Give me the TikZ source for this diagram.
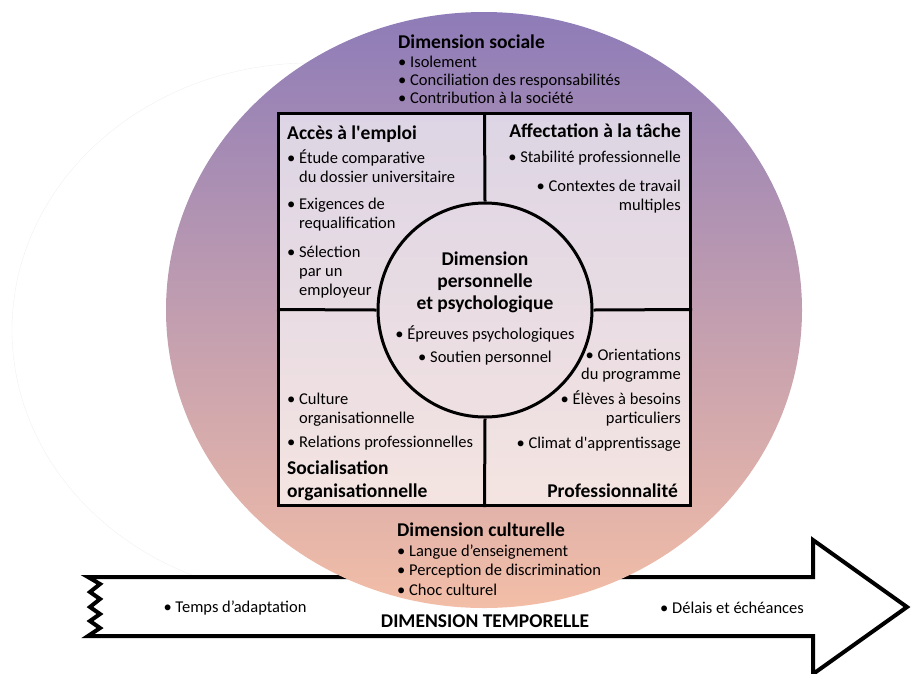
\documentclass[tikz,border=0pt]{standalone}
\usepackage{fontspec}
\setmainfont{Carlito}[Ligatures=TeXOff]
\definecolor{socialtop}{RGB}{142,124,184}
\definecolor{culturebot}{RGB}{243,190,167}
\newcommand{\ind}{\phantom{•}\ }
\newcommand{\hd}[1]{{\fontsize{19.5}{19}\selectfont\bfseries #1}}

\begin{document}
\begin{tikzpicture}[x=1pt, y=-1pt,
  txt/.style={inner sep=0pt, font=\fontsize{16.5}{19}\selectfont},
  rule/.style={line width=3pt}]
\useasboundingbox (0,0) rectangle (912,673);

\draw [black!6] (311,330) ellipse [x radius=299, y radius=267];

\draw [line width=4pt, fill=white] (88,577) -- (813,577) -- (813,540) -- (907,607) -- (813,674) -- (813,636) -- (88,636) -- (100,628) -- (90,621) -- (100,614) -- (90,607) -- (100,599) -- (90,592) -- (100,584) -- cycle;
\node [txt] (temps) at (235,608) {• Temps d’adaptation};
\node [txt] (delais) at (732,608) {• Délais et échéances};
\node [txt, font=\fontsize{19.5}{19}\selectfont\bfseries] (tempo) at (485,621) {DIMENSION TEMPORELLE};

\shade [top color=socialtop, bottom color=culturebot] (484,310) ellipse [x radius=318, y radius=298];

\node [rule, draw, fill=white, fill opacity=0.65, minimum width=412pt, minimum height=392pt, inner sep=0pt] (carre) at (484.5,309.5) {};

\node [txt, anchor=north west, align=left, font=\fontsize{16.5}{18.3}\selectfont] (social) at (398,35) {\hd{Dimension sociale}\\ • Isolement\\ • Conciliation des responsabilités\\ • Contribution à la société};

\node [txt, anchor=north west, align=left] (acces) at (287,125.5) {\hd{Accès à l'emploi}\\[5.5pt] • Étude comparative\\ \ind du dossier universitaire\\[8pt] • Exigences de\\ \ind requalification\\[9.5pt] • Sélection\\ \ind par un\\ \ind employeur};

\node [txt, anchor=north east, align=right] (affect) at (681,124) {\hd{Affectation à la tâche}\\[6pt] • Stabilité professionnelle\\[10pt] • Contextes de travail\\ multiples};

\node [txt, anchor=north west, align=left] (socorg) at (287,393) {• Culture\\ \ind organisationnelle\\[5pt] • Relations professionnelles\\[8pt] \hd{Socialisation}\\[4pt] \hd{organisationnelle}};

\node [txt, anchor=north east, align=right] (prof) at (681,348.5) {• Orientations\\ du programme\\[6pt] • Élèves à besoins\\ particuliers\\[6pt] • Climat d'apprentissage};
\node [txt, anchor=base east] (proftitle) at (678,497) {\hd{Professionnalité}};

\node [rule, draw, circle, minimum size=214pt, inner sep=0pt] (perso) at (485,310) {};
\node [txt, align=center] (persotxt) at (485,308.3) {\hd{Dimension}\\[3pt] \hd{personnelle}\\[3pt] \hd{et psychologique}\\[10.5pt] • Épreuves psychologiques\\[4pt] • Soutien personnel};

\draw [rule] (carre.north) -- (perso.north);
\draw [rule] (carre.south) -- (perso.south);
\draw [rule] (carre.west) -- (perso.west);
\draw [rule] (carre.east) -- (perso.east);

\node [txt, anchor=north west, align=left, font=\fontsize{16.5}{19.5}\selectfont] (culture) at (397,523) {\hd{Dimension culturelle}\\ • Langue d’enseignement\\ • Perception de discrimination\\ • Choc culturel};
\end{tikzpicture}
\end{document}
